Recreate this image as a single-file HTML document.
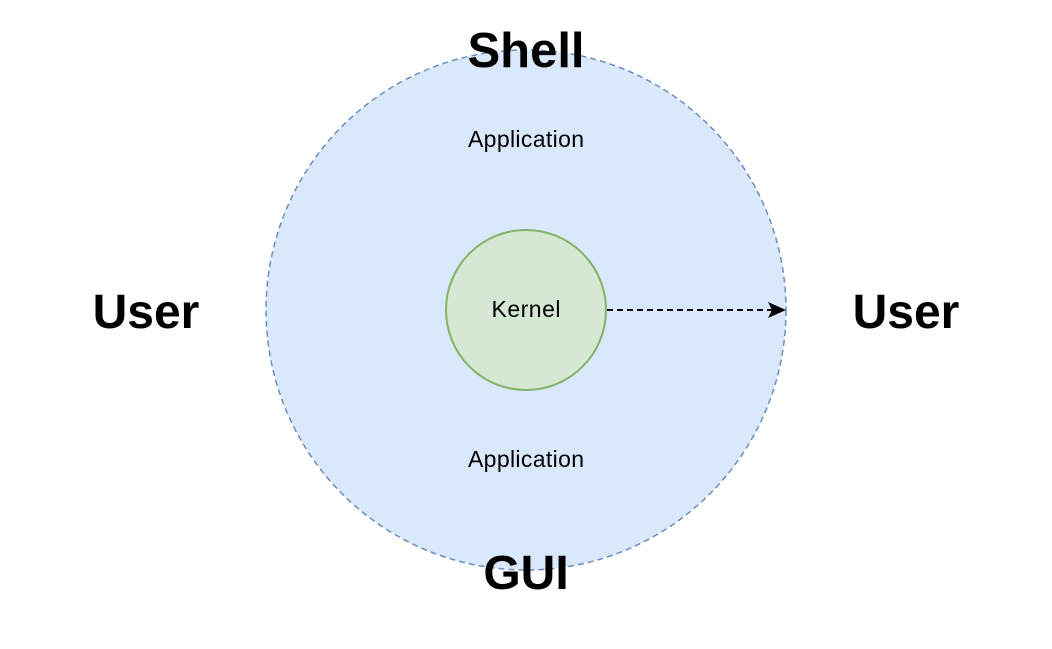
<!DOCTYPE html>
<html><head><style>body{margin:0;background:#fff}</style></head><body>
<svg width="1052" height="644" xmlns="http://www.w3.org/2000/svg" font-family="Liberation Sans, Arial, sans-serif">
<circle cx="526" cy="310" r="260" fill="#dae8fc" stroke="#6c8ebf" stroke-width="1.5" stroke-dasharray="6,4"/>
<circle cx="526" cy="310" r="80" fill="#d5e8d4" stroke="#82b366" stroke-width="2"/>
<line x1="607" y1="310" x2="772" y2="310" stroke="#000" stroke-width="2" stroke-dasharray="6,4"/>
<path d="M786 310 L768 302 L772 310 L768 318 Z" fill="#000"/>
<text x="526" y="67" font-size="49" font-weight="bold" text-anchor="middle">Shell</text>
<text x="526" y="589" font-size="48" font-weight="bold" text-anchor="middle">GUI</text>
<text x="146" y="328" font-size="48" font-weight="bold" text-anchor="middle">User</text>
<text x="906" y="328" font-size="48" font-weight="bold" text-anchor="middle">User</text>
<text x="526" y="147" font-size="23" text-anchor="middle" textLength="116">Application</text>
<text x="526" y="467" font-size="23" text-anchor="middle" textLength="116">Application</text>
<text x="526" y="317" font-size="23" text-anchor="middle" textLength="69">Kernel</text>
</svg>
</body></html>
